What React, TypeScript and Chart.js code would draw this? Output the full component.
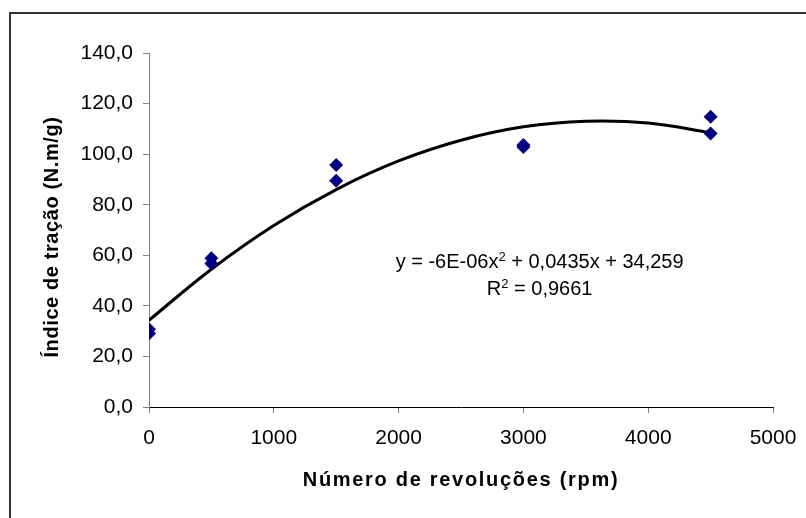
import React, { useEffect, useRef } from 'react';
import { Chart, registerables } from 'chart.js';

Chart.register(...registerables);

// Measured points (rpm, traction index)
const rpm = [0, 0, 500, 500, 1500, 1500, 3000, 3000, 4500, 4500];
const tractionIndex = [30.7, 29.1, 58.8, 56.8, 95.7, 89.5, 103.6, 102.8, 114.8, 108.2];

// Polynomial trend line
const trendRpm = [0, 500, 1000, 1500, 2000, 2500, 3000, 3500, 4000, 4500];
const trendValues = [34.3, 54.5, 71.8, 86.0, 97.3, 105.5, 110.8, 113.0, 112.3, 108.5];

const xTitle = 'Número de revoluções (rpm)';
const yTitle = 'Índice de tração (N.m/g)';
const equationParts = ['y = -6E-06x', '2', ' + 0,0435x + 34,259'];
const r2Parts = ['R', '2', ' = 0,9661'];
const equationAnchor = { x: 3130, y1: 55, y2: 44.3 };

const FONT = '"Liberation Sans", Arial, sans-serif';

const annotationPlugin = {
  id: 'annotations',
  afterDraw(chart: any) {
    const { ctx, chartArea, scales } = chart;
    ctx.save();
    ctx.fillStyle = '#000';
    // axis titles
    ctx.textAlign = 'center';
    ctx.textBaseline = 'middle';
    ctx.font = `bold 20px ${FONT}`;
    (ctx as any).letterSpacing = '1.7px';
    ctx.fillText(xTitle, (chartArea.left + chartArea.right) / 2, chartArea.bottom + 73);
    ctx.save();
    (ctx as any).letterSpacing = '0.6px';
    ctx.translate(chartArea.left - 97, (chartArea.top + chartArea.bottom) / 2 + 7);
    ctx.rotate(-Math.PI / 2);
    ctx.fillText(yTitle, 0, 0);
    ctx.restore();
    (ctx as any).letterSpacing = '0px';

    // trendline equation
    const drawParts = (parts: string[], cx: number, baseline: number) => {
      const main = `20px ${FONT}`;
      const sup = `13px ${FONT}`;
      ctx.textAlign = 'left';
      ctx.textBaseline = 'alphabetic';
      ctx.font = main;
      const w0 = ctx.measureText(parts[0]).width;
      const w2 = ctx.measureText(parts[2]).width;
      ctx.font = sup;
      const w1 = ctx.measureText(parts[1]).width;
      let x = cx - (w0 + w1 + w2) / 2;
      ctx.font = main;
      ctx.fillText(parts[0], x, baseline);
      x += w0;
      ctx.font = sup;
      ctx.fillText(parts[1], x, baseline - 7);
      x += w1;
      ctx.font = main;
      ctx.fillText(parts[2], x, baseline);
    };
    const cx = scales.x.getPixelForValue(equationAnchor.x);
    drawParts(equationParts, cx, scales.y.getPixelForValue(equationAnchor.y1));
    drawParts(r2Parts, cx, scales.y.getPixelForValue(equationAnchor.y2));
    ctx.restore();
  },
};

export default function App() {
  const ref = useRef<HTMLCanvasElement>(null);

  useEffect(() => {
    if (!ref.current) return;
    const chart = new Chart(ref.current, {
      type: 'scatter',
      data: {
        datasets: [
          {
            label: 'Tendência',
            data: trendRpm.map((x, i) => ({ x, y: trendValues[i] })),
            showLine: true,
            borderColor: '#000',
            borderWidth: 3,
            pointRadius: 0,
            tension: 0.4,
            order: 2,
          },
          {
            label: 'Índice de tração',
            data: rpm.map((x, i) => ({ x, y: tractionIndex[i] })),
            pointStyle: 'rectRot',
            pointRadius: 7,
            pointBackgroundColor: '#000080',
            pointBorderColor: '#000080',
            pointBorderWidth: 0,
            order: 1,
          },
        ],
      },
      options: {
        animation: false,
        responsive: false,
        layout: { padding: { top: 53, right: 33, left: 0, bottom: 0 } },
        plugins: { legend: { display: false }, tooltip: { enabled: false } },
        scales: {
          x: {
            type: 'linear',
            min: 0,
            max: 5000,
            afterFit: (s: any) => {
              s.height = 111;
              s.paddingLeft = 0;
              s.paddingRight = 0;
            },
            ticks: {
              stepSize: 1000,
              color: '#000',
              font: { family: FONT, size: 21 },
              padding: 13,
              maxRotation: 0,
              callback: (v: any) => String(v),
            },
            grid: { drawOnChartArea: false, tickLength: 6, color: '#808080' },
            border: { color: '#000', width: 1 },
          },
          y: {
            type: 'linear',
            min: 0,
            max: 140,
            afterFit: (s: any) => {
              s.width = 149;
              s.paddingTop = 0;
              s.paddingBottom = 0;
            },
            ticks: {
              stepSize: 20,
              color: '#000',
              font: { family: FONT, size: 21 },
              padding: 10,
              callback: (v: any) => Number(v).toFixed(1).replace('.', ','),
            },
            grid: { drawOnChartArea: false, tickLength: 6, color: '#808080' },
            border: { color: '#808080', width: 1 },
          },
        },
      },
      plugins: [annotationPlugin],
    });
    return () => chart.destroy();
  }, []);

  return (
    <div style={{ position: 'fixed', left: 0, top: 0, width: 806, height: 518, overflow: 'hidden', background: '#fff' }}>
      <div
        style={{
          position: 'absolute',
          left: 9,
          top: 12,
          width: 840,
          height: 560,
          border: '2px solid #333',
          boxSizing: 'border-box',
        }}
      />
      <canvas ref={ref} width={806} height={518} style={{ position: 'absolute', left: 0, top: 0 }} />
    </div>
  );
}
